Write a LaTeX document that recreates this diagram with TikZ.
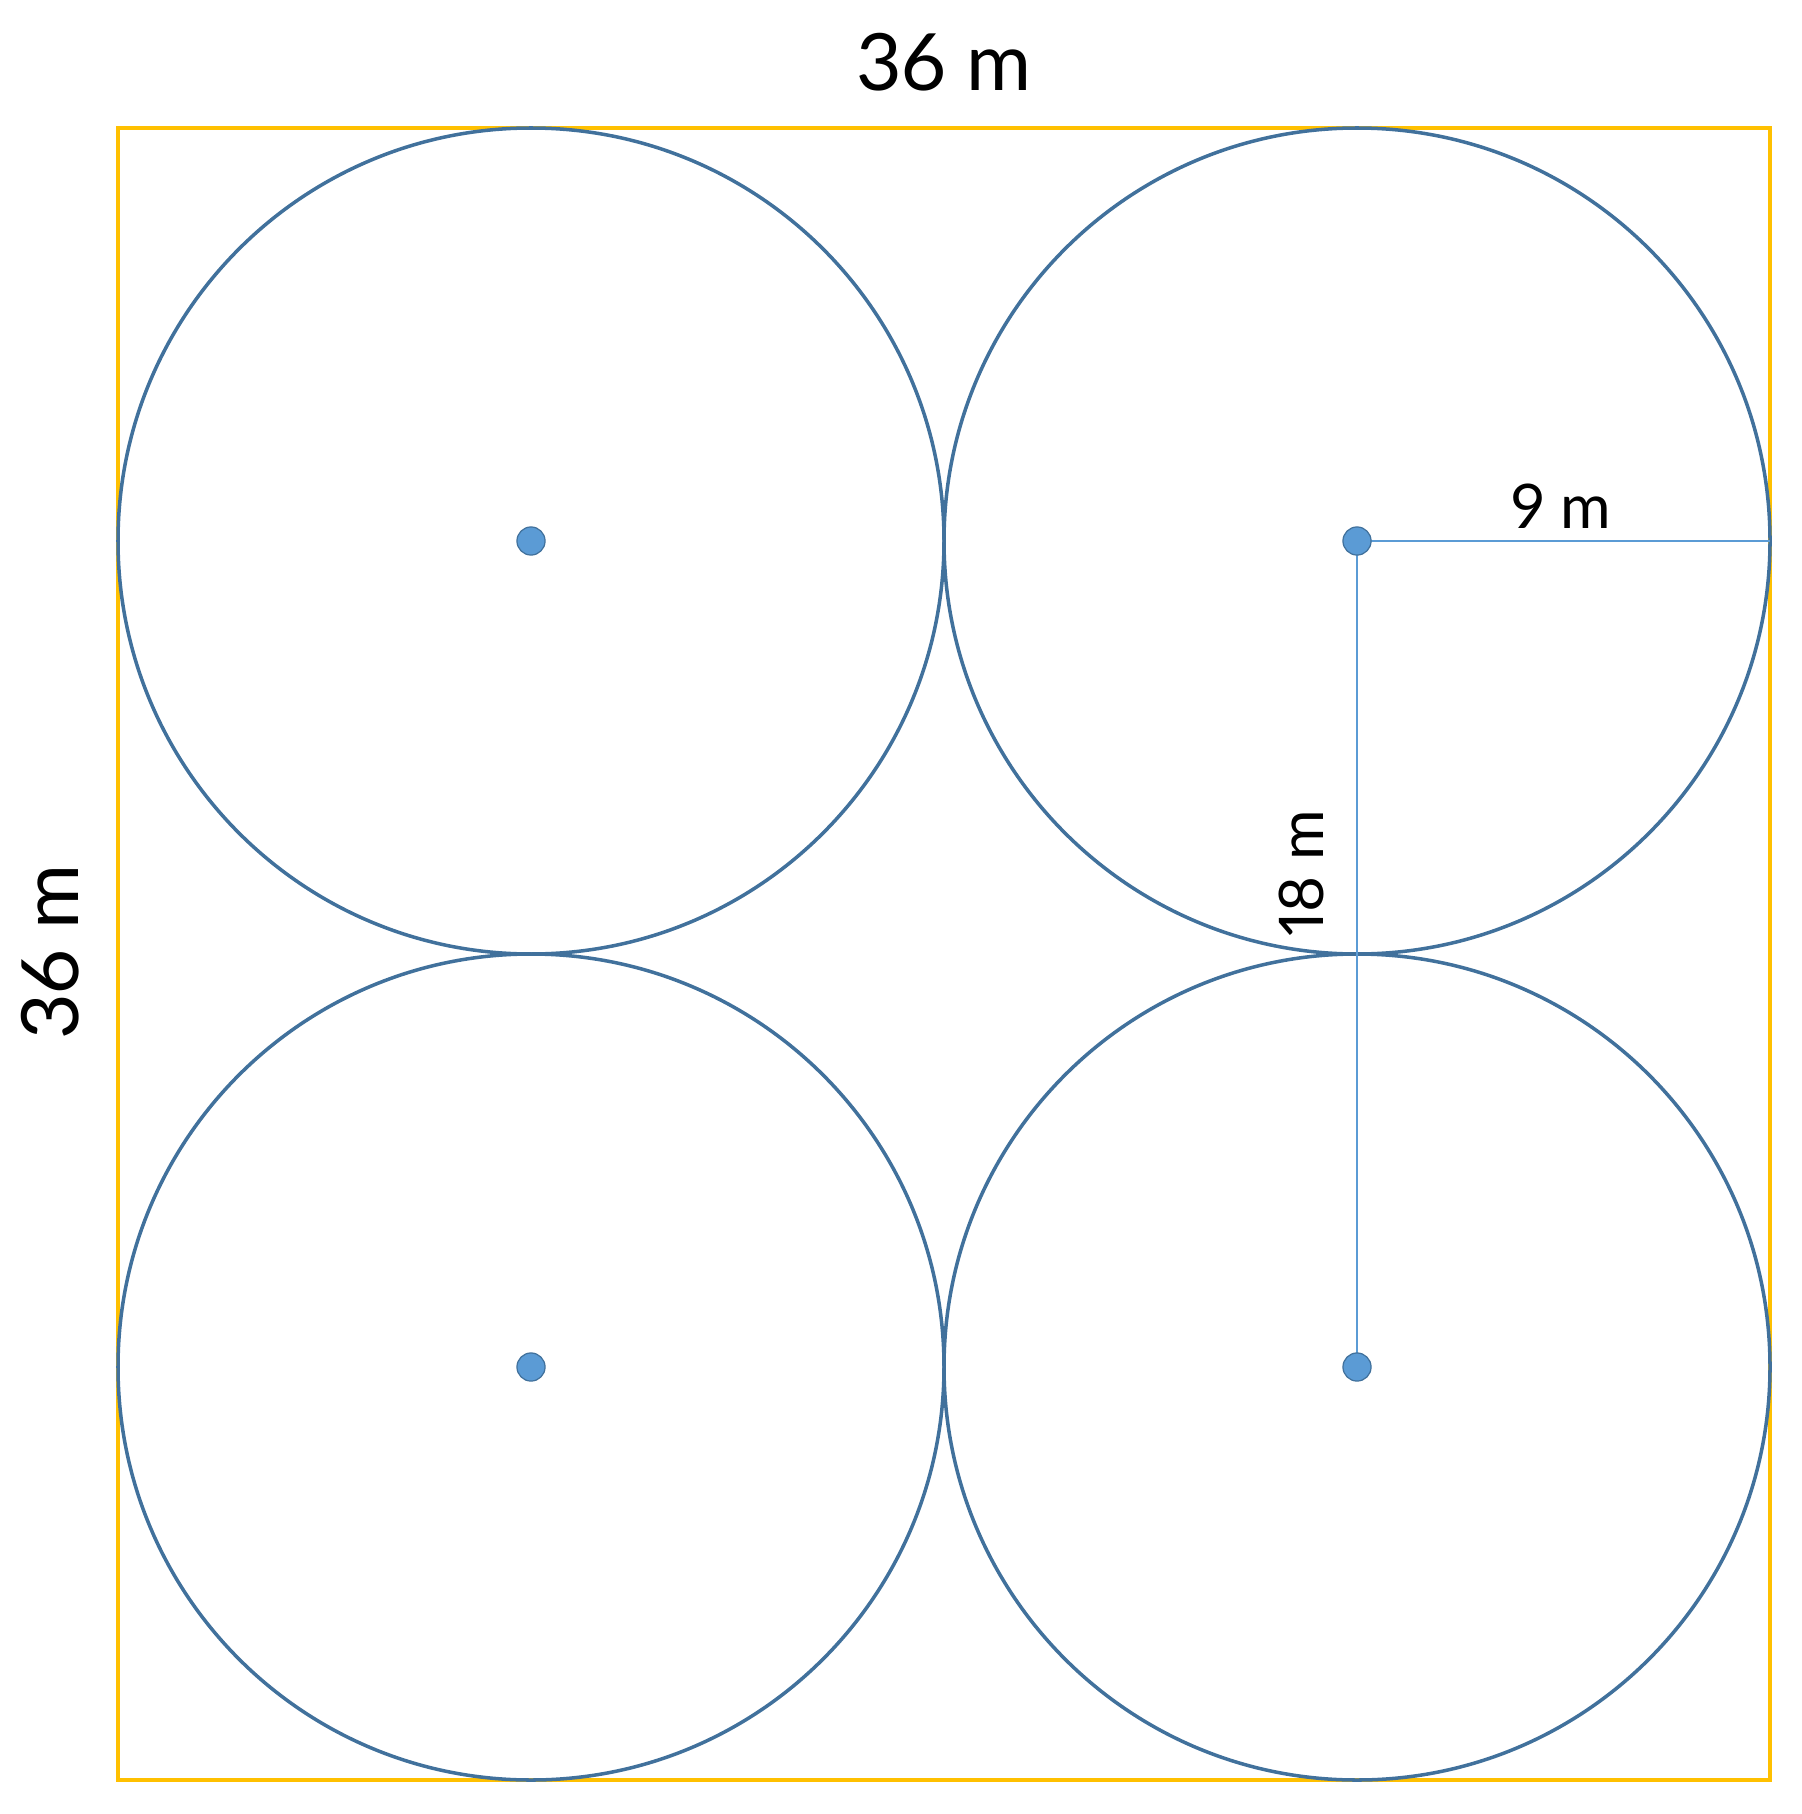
\documentclass[tikz,border=0pt]{standalone}
\usepackage{fontspec}
\setmainfont[Numbers={Lining,Proportional}]{Lato}
\definecolor{sqyellow}{HTML}{FFC000}
\definecolor{circblue}{HTML}{41719C}
\definecolor{dotblue}{HTML}{5B9BD5}
\tikzset{
  bigcircle/.style={draw=circblue, line width=2pt},
  centerdot/.style={circle, fill=dotblue, draw=circblue, line width=0.7pt, minimum size=16pt, inner sep=0pt},
  radline/.style={draw=dotblue, line width=1.2pt},
  biglabel/.style={font=\fontsize{45}{52}\selectfont, inner sep=0pt},
  smalllabel/.style={font=\fontsize{35}{42}\selectfont, inner sep=0pt}
}
\begin{document}
\begin{tikzpicture}[x=0.02cm,y=-0.02cm]
\useasboundingbox (0,0) rectangle (1801,1814);
\draw[sqyellow, line width=2.4pt] (118,128) rectangle (1770,1780);
\foreach \cx/\cy in {531/541, 1357/541, 531/1367, 1357/1367}
  \draw[bigcircle] (\cx,\cy) circle [radius=413];
\draw[radline] (1357,541) -- (1770,541);
\draw[radline] (1357,541) -- (1357,1367);
\node[centerdot] (c1) at (531,541) {};
\node[centerdot] (c2) at (1357,541) {};
\node[centerdot] (c3) at (531,1367) {};
\node[centerdot] (c4) at (1357,1367) {};
\coordinate (edge) at (1770,541);
\node[biglabel] (top) at (944,62) {36 m};
\node[biglabel, rotate=90] (left) at (50,952) {36 m};
\node[smalllabel] (nine) at (1561,506) {9 m};
\node[smalllabel, rotate=90] (eighteen) at (1301,873) {18 m};
\end{tikzpicture}
\end{document}
